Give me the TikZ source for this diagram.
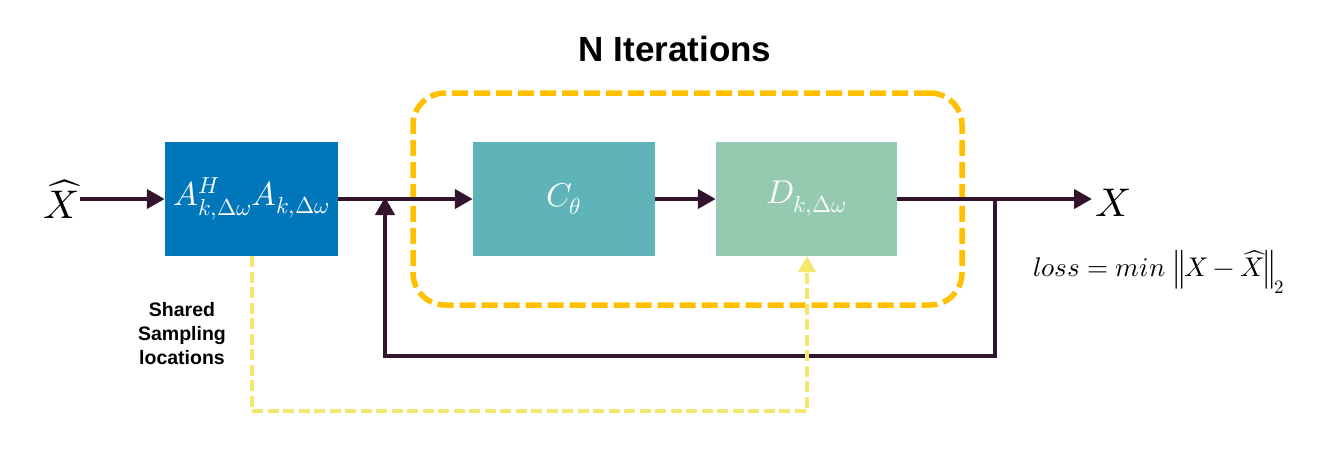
\documentclass[tikz,border=0pt]{standalone}
\usepackage{fontspec}
\usepackage{unicode-math}
\setmathfont{Latin Modern Math}
\setsansfont{Liberation Sans}
\usetikzlibrary{arrows.meta}
\definecolor{boxA}{RGB}{0,119,187}
\definecolor{boxC}{RGB}{94,180,184}
\definecolor{boxD}{RGB}{150,202,176}
\definecolor{wire}{RGB}{51,20,45}
\definecolor{iterc}{RGB}{255,192,0}
\definecolor{sharec}{RGB}{245,230,110}
\tikzset{
  blk/.style={minimum width=#1, minimum height=114pt, inner sep=0pt, text=white, font=\fontsize{33}{36}\selectfont},
  wireline/.style={draw=wire, line width=4.2pt},
  arr/.style={-{Triangle[length=18pt,width=19pt]}},
  iterbox/.style={draw=iterc, line width=5.5pt, dash pattern=on 16pt off 6pt, rounded corners=32pt, minimum width=549pt, minimum height=212pt, inner sep=0pt},
  sharel/.style={draw=sharec, line width=3.8pt, dash pattern=on 11pt off 4.5pt},
  lbl/.style={font=\sffamily\bfseries\fontsize{19.5}{24}\selectfont, align=center},
}
\begin{document}
\begin{tikzpicture}[x=1pt,y=-1pt]
\useasboundingbox (0,0) rectangle (1319,448);
\node[iterbox] (iter) at (687.5,199) {};
\node[lbl, font=\sffamily\bfseries\fontsize{35}{38}\selectfont] (title) at (675,49) {N Iterations};
\node[blk=173pt, fill=boxA] (A) at (251.5,199) {$A^{H}_{k,\Delta\omega}A_{k,\Delta\omega}$};
\node[blk=182pt, fill=boxC] (C) at (564,199) {$C_{\theta}$};
\node[blk=181pt, fill=boxD] (D) at (806.5,199) {$D_{k,\Delta\omega}$};
\node[font=\fontsize{40}{44}\selectfont, inner sep=0pt] (Xh) at (61,199) {$\widehat{X}$};
\node[font=\fontsize{40}{44}\selectfont, inner sep=0pt] (X) at (1113,203) {$X$};
\node[font=\fontsize{27}{30}\selectfont, inner sep=0pt, anchor=west] (loss) at (1033,272) {$loss = min\,\left\|X-\widehat{X}\right\|_2$};
\node[lbl] (share) at (182,334) {Shared\\Sampling\\locations};
\coordinate (J1) at (385,199);
\coordinate (J2) at (995,199);
\coordinate (B1) at (995,356);
\coordinate (B2) at (385,356);
\coordinate (Xin) at (1092,199);
\coordinate (Xhout) at (80,199);
\coordinate (S1) at (252,411);
\coordinate (S2) at (807,411);
\draw[wireline, arr] (Xhout) -- (A.west);
\draw[wireline, arr] (A.east) -- (C.west);
\draw[wireline, arr] (C.east) -- (D.west);
\draw[wireline, arr] (D.east) -- (Xin);
\draw[wireline, arr] (J2) -- (B1) -- (B2) -- ([yshift=2pt]J1);
\draw[sharel, -{Triangle[length=16pt,width=17pt]}] (A.south -| S1) -- (S1) -- (S2) -- (S2 |- D.south);
\end{tikzpicture}
\end{document}
